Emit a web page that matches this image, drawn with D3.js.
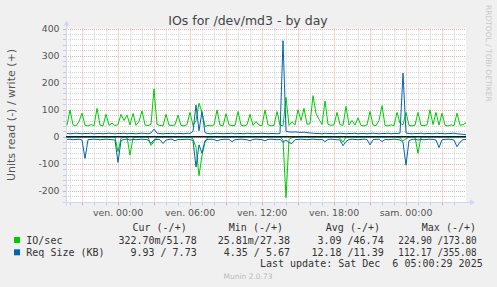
<!DOCTYPE html>
<html><head><meta charset="utf-8">
<script src="https://cdn.jsdelivr.net/npm/d3@7/dist/d3.min.js"></script>
<style>
html,body{margin:0;padding:0;background:#f0f0f0;}
svg{display:block;}
</style></head>
<body>
<svg id="chart" width="497" height="287"></svg>
<script>
// ---- data (15-minute samples from Thu 19:45 to Sat 05:00) ----
const sampleStart = new Date(2025, 11, 4, 19, 45);
const sampleStepMinutes = 15;
// IO/sec write (+)
const ioWrite = [42,99,44,40,56,87,42,40,45,41,105,43,40,83,42,50,41,45,83,60,
  80,44,86,42,56,96,44,41,46,177,45,42,40,83,43,41,44,80,42,40,
  45,90,42,60,124,90,38,42,40,44,99,43,40,85,44,41,42,93,43,40,
  44,83,42,56,43,41,99,44,40,42,93,43,40,145,42,55,44,100,60,105,
  46,48,152,85,65,45,132,46,42,44,90,45,42,112,44,60,43,70,42,40,
  44,93,43,41,60,115,42,40,44,41,90,50,44,90,42,40,43,90,42,41,
  44,99,45,90,43,87,42,40,44,41,87,43,44,51.78];
// IO/sec read (-)
const ioRead = [0.8,1.2,0.5,0.9,1.1,0.7,1.4,0.6,0.5,1.0,0.8,0.7,0.4,1.1,0.8,0.6,1.3,55,6,0.9,
  1.2,68,5,0.8,0.7,1.0,0.6,1.4,32,18,1.1,0.7,1.0,0.8,0.4,0.6,1.1,0.7,0.8,0.5,
  1.0,0.7,8,40,144,68,20,1.2,0.7,0.6,1.0,0.4,0.8,0.7,1.1,0.6,0.5,0.8,1.0,0.6,
  0.7,1.1,0.4,0.8,0.6,1.0,0.7,0.5,0.8,1.0,0.7,0.6,12,225,10,4,0.8,1.0,0.6,0.4,
  0.7,1.1,0.6,0.8,0.4,1.0,0.7,0.6,1.1,0.4,0.8,6,20,1.2,0.7,0.4,0.8,1.0,0.6,0.7,
  0.4,1.1,0.8,0.6,0.4,1.0,0.7,0.6,0.4,0.8,1.1,4,15,8,1.2,0.7,1.4,61,1.0,0.6,
  0.4,0.8,1.1,0.7,1.4,0.6,0.4,0.8,1.0,0.7,1.1,0.6,0.4,0.3227];
// Req Size (KB) write (+)
const reqWrite = [12,11,12,13,12,11,12,12,13,11,12,12,11,12,13,12,11,12,12,13,
  11,12,12,11,12,13,12,11,14,28,13,12,11,12,12,13,11,12,12,11,
  13,12,20,117,22,93,15,12,11,12,13,12,11,12,12,13,11,12,12,11,
  13,12,11,12,12,13,12,11,12,12,11,12,355,20,18,17,18,17,16,17,
  15,14,13,12,12,11,13,12,12,11,12,13,12,11,12,12,13,11,12,12,
  11,12,13,12,11,12,12,13,11,12,12,13,235,14,12,11,12,12,13,11,
  12,12,11,13,12,12,11,12,12,13,11,10,9,7.73];
// Req Size (KB) read (-)
const reqRead = [10,9,11,10,9,12,80,11,10,9,10,11,10,9,10,11,12,95,14,10,
  9,12,10,11,10,9,10,12,25,11,10,11,25,12,10,9,15,10,11,10,
  9,10,14,112,30,61,14,10,9,10,15,11,10,9,10,18,11,10,9,10,
  11,15,10,9,10,11,15,10,9,10,11,10,20,12,22,25,11,10,9,10,
  11,10,9,10,11,10,18,10,9,10,11,12,33,18,10,9,10,11,10,9,
  10,30,11,10,9,18,10,11,10,9,10,12,20,105,14,10,9,12,10,11,
  10,9,10,12,40,11,10,9,10,12,37,20,11,9.93];

const yTickValues = [-200,-100,0,100,200,300,400];
const xLabelTimes = [new Date(2025,11,5,0,0), new Date(2025,11,5,6,0), new Date(2025,11,5,12,0), new Date(2025,11,5,18,0), new Date(2025,11,6,0,0)];
const xLabelTexts = ["ven. 00:00","ven. 06:00","ven. 12:00","ven. 18:00","sam. 00:00"];

const legendHeaders = ["Cur (-/+)","Min (-/+)","Avg (-/+)","Max (-/+)"];
const legendNames = ["IO/sec","Req Size (KB)"];
const legendColors = ["#00cc00","#0066b3"];
const legendCur = ["322.70m/51.78","9.93 / 7.73"];
const legendMin = ["25.81m/27.38","4.35 / 5.67"];
const legendAvg = ["3.09 /46.74","12.18 /11.39"];
const legendMax = ["224.90 /173.80","112.17 /355.08"];

// ---- layout ----
const svg = d3.select("#chart");
const L = 66, R = 466, T = 28.5, B = 202.5;
const x = d3.scaleTime()
  .domain([new Date(2025,11,4,19,40), new Date(2025,11,6,5,0)])
  .range([L, R]);
const y = d3.scaleLinear().domain([-243, 400]).range([B, T]);
const times = ioWrite.map((_, i) => new Date(sampleStart.getTime() + i*sampleStepMinutes*60000));

svg.append("rect").attr("width",497).attr("height",287).attr("fill","#f0f0f0");
svg.append("rect").attr("x",L).attr("y",T).attr("width",R-L).attr("height",B-T).attr("fill","#ffffff");

const grid = svg.append("g");
// horizontal grid
d3.range(-240, 401, 20).forEach(v => {
  const yy = Math.round(y(v)) + 0.5;
  const major = v % 100 === 0;
  grid.append("line").attr("x1",L).attr("x2",R).attr("y1",yy).attr("y2",yy)
    .attr("stroke", major ? "#f0a8a8" : "#d4d4d4").attr("stroke-dasharray","1,1");
  grid.append("line").attr("x1",L-3).attr("x2",L).attr("y1",yy).attr("y2",yy)
    .attr("stroke", major ? "#f0a8a8" : "#cccccc");
});
// vertical grid (hourly, major every 3h)
const hours = d3.timeHour.range(x.domain()[0], x.domain()[1]);
hours.forEach(h => {
  const xx = Math.round(x(h)) + 0.5;
  const major = h.getHours() % 3 === 0;
  grid.append("line").attr("x1",xx).attr("x2",xx).attr("y1",T).attr("y2",B)
    .attr("stroke", major ? "#f0a8a8" : "#d4d4d4").attr("stroke-dasharray","1,1");
  grid.append("line").attr("x1",xx).attr("x2",xx).attr("y1",B).attr("y2",B+3)
    .attr("stroke", major ? "#f0a8a8" : "#cccccc");
});

// axes
const axisColor = "#cfd6f8";
svg.append("line").attr("x1",L+0.5).attr("x2",L+0.5).attr("y1",B+3).attr("y2",T-4).attr("stroke",axisColor);
svg.append("line").attr("x1",L-3).attr("x2",R+4).attr("y1",B).attr("y2",B).attr("stroke",axisColor);
svg.append("path").attr("d",`M${L-2.5},${T-3} L${L+3.5},${T-3} L${L+0.5},${T-8} Z`).attr("fill",axisColor);
svg.append("path").attr("d",`M${R+4},${B-3} L${R+4},${B+3} L${R+9},${B} Z`).attr("fill",axisColor);

// y tick labels
svg.append("g").selectAll("text").data(yTickValues).join("text")
  .attr("x",59.5).attr("y",d => y(d)).attr("dy","0.35em")
  .attr("text-anchor","end").attr("font-family","DejaVu Sans").attr("font-size",9.3)
  .attr("fill","#555").text(d => d);
// x tick labels
svg.append("g").selectAll("text").data(xLabelTimes).join("text")
  .attr("x",d => x(d)).attr("y",216).attr("text-anchor","middle")
  .attr("font-family","DejaVu Sans").attr("font-size",9.4).attr("fill","#555")
  .text((d,i) => xLabelTexts[i]);

// series
const lineUp = vals => d3.line().x((d,i) => x(times[i])).y(d => y(d))(vals);
const lineDown = vals => d3.line().x((d,i) => x(times[i])).y(d => y(-d))(vals);
const series = svg.append("g").attr("fill","none").attr("stroke-width",1).attr("stroke-linejoin","round");
series.append("path").attr("d",lineDown(ioRead)).attr("stroke",legendColors[0]);
series.append("path").attr("d",lineUp(ioWrite)).attr("stroke",legendColors[0]);
series.append("path").attr("d",lineDown(reqRead)).attr("stroke",legendColors[1]);
series.append("path").attr("d",lineUp(reqWrite)).attr("stroke",legendColors[1]);
svg.append("line").attr("x1",L).attr("x2",R).attr("y1",y(0)).attr("y2",y(0))
  .attr("stroke","#0b1d33").attr("stroke-width",1.5);

// title
svg.append("text").attr("x",248).attr("y",25).attr("text-anchor","middle")
  .attr("font-family","DejaVu Sans").attr("font-size",12.5).attr("fill","#444")
  .text("IOs for /dev/md3 - by day");
// y axis title
svg.append("text").attr("transform","translate(14.5,115) rotate(-90)").attr("text-anchor","middle")
  .attr("font-family","DejaVu Sans").attr("font-size",11).attr("fill","#555")
  .text("Units read (-) / write (+)");
// watermark
svg.append("text").attr("transform","translate(485.5,5) rotate(90)").attr("text-anchor","start")
  .attr("font-family","DejaVu Sans").attr("font-size",7.5).attr("fill","#c8c8c8")
  .text("RRDTOOL / TOBI OETIKER");

// legend
const mono = {"font-family":"DejaVu Sans Mono","font-size":10,"fill":"#333"};
const leg = svg.append("g");
function t(txt, xx, yy, anchor){
  const e = leg.append("text").attr("x",xx).attr("y",yy).attr("dy","0.35em").attr("text-anchor",anchor||"start").text(txt);
  Object.entries(mono).forEach(([k,v]) => e.attr(k,v));
  return e;
}
const headerRight = [186.7, 283, 380, 476];
legendHeaders.forEach((h,i) => t(h, headerRight[i], 227.5, "end"));
const rowY = [240, 252.3];
legendNames.forEach((n,i) => {
  leg.append("rect").attr("x",14).attr("y",rowY[i]-3).attr("width",6).attr("height",6).attr("fill",legendColors[i]);
  t(n, 26.3, rowY[i]);
  t(legendCur[i], 196.7, rowY[i], "end");
  t(legendMin[i], 290, rowY[i], "end");
  t(legendAvg[i], 383.7, rowY[i], "end");
  t(legendMax[i], 398.3, rowY[i], "start").attr("textLength",78.4).attr("lengthAdjust","spacingAndGlyphs");
});
t("Last update: Sat Dec  6 05:00:29 2025", 482.7, 263.5, "end").attr("xml:space","preserve").style("white-space","pre");
svg.append("text").attr("x",248).attr("y",276).attr("dy","0.35em").attr("text-anchor","middle")
  .attr("font-family","DejaVu Sans").attr("font-size",7.5).attr("fill","#bbbbbb").text("Munin 2.0.73");
</script>
</body></html>
